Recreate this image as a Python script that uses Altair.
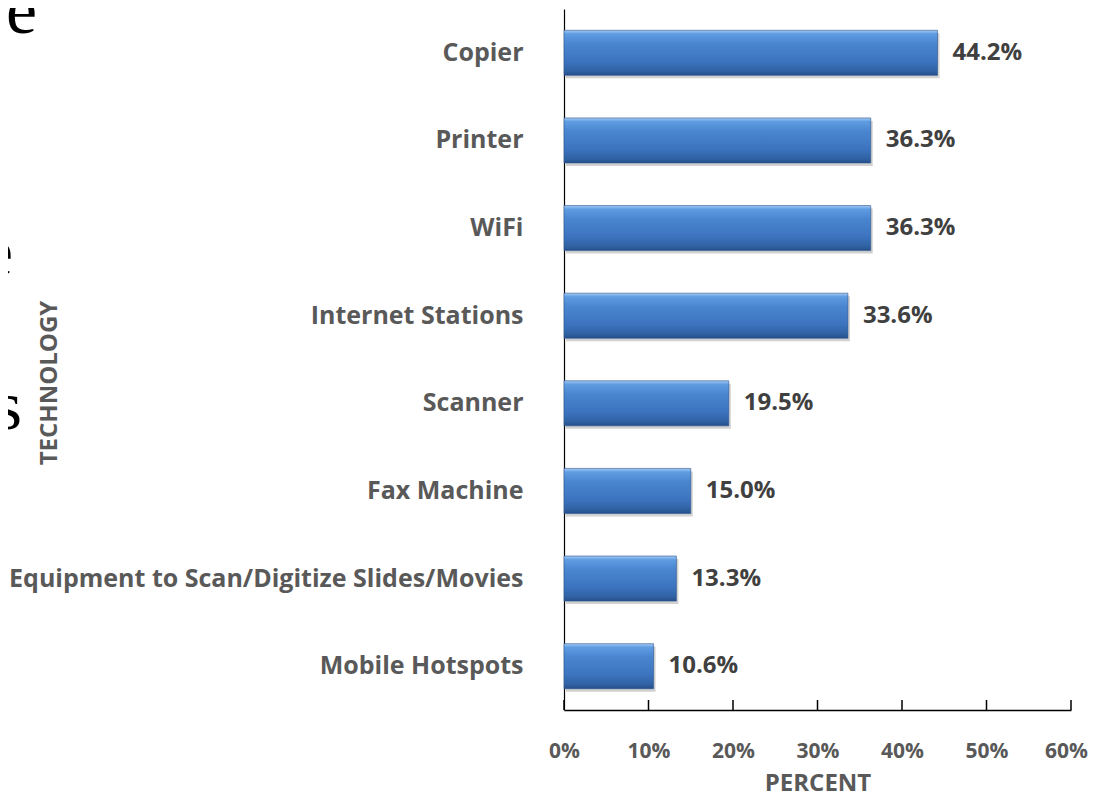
import altair as alt
import pandas as pd

categories = ["Copier", "Printer", "WiFi", "Internet Stations", "Scanner",
              "Fax Machine", "Equipment to Scan/Digitize Slides/Movies", "Mobile Hotspots"]
values = [44.2, 36.3, 36.3, 33.6, 19.5, 15.0, 13.3, 10.6]
labels = ["44.2%", "36.3%", "36.3%", "33.6%", "19.5%", "15.0%", "13.3%", "10.6%"]
x_ticks = [0, 10, 20, 30, 40, 50, 60]
fragments = ["ve", "e", "s"]

df = pd.DataFrame({"tech": categories, "pct": values, "label": labels})
ticks_df = pd.DataFrame({"t": x_ticks})

W, H = 507, 701
FONT = "Open Sans"
GRAY = "#595959"

xscale = alt.Scale(domain=[0, 60], nice=False, zero=True)
yscale = alt.Scale(domain=categories, paddingInner=0.486, paddingOuter=0.243)

grad = alt.Gradient(
    gradient="linear", x1=0, x2=0, y1=0, y2=1,
    stops=[
        alt.GradientStop(color="#A6CAF2", offset=0.0),
        alt.GradientStop(color="#5F9DE2", offset=0.08),
        alt.GradientStop(color="#4A85D0", offset=0.3),
        alt.GradientStop(color="#3C73BE", offset=0.7),
        alt.GradientStop(color="#3062A3", offset=0.9),
        alt.GradientStop(color="#264F8A", offset=1.0),
    ],
)

base = alt.Chart(df)

xaxis = alt.Axis(values=x_ticks, format=".0f", labelExpr="datum.value + '%'",
                 tickSize=0, domainColor="black", domainWidth=1.5, labelFlush=False,
                 labelOffset={"condition": {"test": "datum.value == 60", "value": -5}, "value": 0},
                 grid=False, labelPadding=30, labelFont=FONT, labelFontSize=21,
                 labelFontWeight="bold", labelColor=GRAY,
                 title="PERCENT", titleFont=FONT, titleFontSize=24,
                 titleFontWeight="bold", titleColor=GRAY, titlePadding=10)
yaxis = alt.Axis(title=None, ticks=False, domainColor="black", domainWidth=1.2,
                 labelPadding=41, labelFont=FONT, labelFontSize=25,
                 labelFontWeight="bold", labelColor=GRAY, labelLimit=700)

shadow = base.mark_bar(color="#9A9A9A", opacity=0.45, yOffset=3, xOffset=2).encode(
    x=alt.X("pct:Q", scale=xscale, axis=xaxis),
    y=alt.Y("tech:N", scale=yscale, sort=categories, axis=yaxis),
)

bars = base.mark_bar(color=grad, stroke="#2A5590", strokeWidth=0.6).encode(
    x=alt.X("pct:Q", scale=xscale),
    y=alt.Y("tech:N", scale=yscale, sort=categories),
)

text = base.mark_text(align="left", baseline="middle", dx=15, font=FONT, fontSize=24,
                      fontWeight="bold", color="#404040").encode(
    x=alt.X("pct:Q", scale=xscale),
    y=alt.Y("tech:N", scale=yscale, sort=categories),
    text="label:N",
)

tick_marks = alt.Chart(ticks_df).mark_rule(color="black", strokeWidth=1.5).encode(
    x=alt.X("t:Q", scale=xscale),
    y=alt.value(H - 10),
    y2=alt.value(H),
)

ytitle = alt.Chart(pd.DataFrame({"t": ["TECHNOLOGY"]})).mark_text(
    angle=270, align="center", baseline="middle", font=FONT, fontSize=24,
    fontWeight="bold", color=GRAY).encode(
    x=alt.value(-514), y=alt.value(374), text="t:N")

frag_df = pd.DataFrame({"f": fragments, "px": [-527, -551, -542], "py": [24, 266, 420]})
frag = alt.Chart(frag_df).mark_text(
    align="right", baseline="alphabetic", font="Liberation Serif", fontSize=70,
    color="black").encode(
    x=alt.X("px:Q", scale=None), y=alt.Y("py:Q", scale=None), text="f:N")

chart = alt.layer(shadow, bars, text, tick_marks, ytitle, frag).properties(
    width=W, height=H,
    autosize=alt.AutoSizeParams(type="none"),
    padding={"left": 556, "top": 1, "right": 21, "bottom": 85},
).configure(background="white").configure_view(stroke=None)

chart.save("out.html", embed_options={"renderer": "svg", "actions": False})
